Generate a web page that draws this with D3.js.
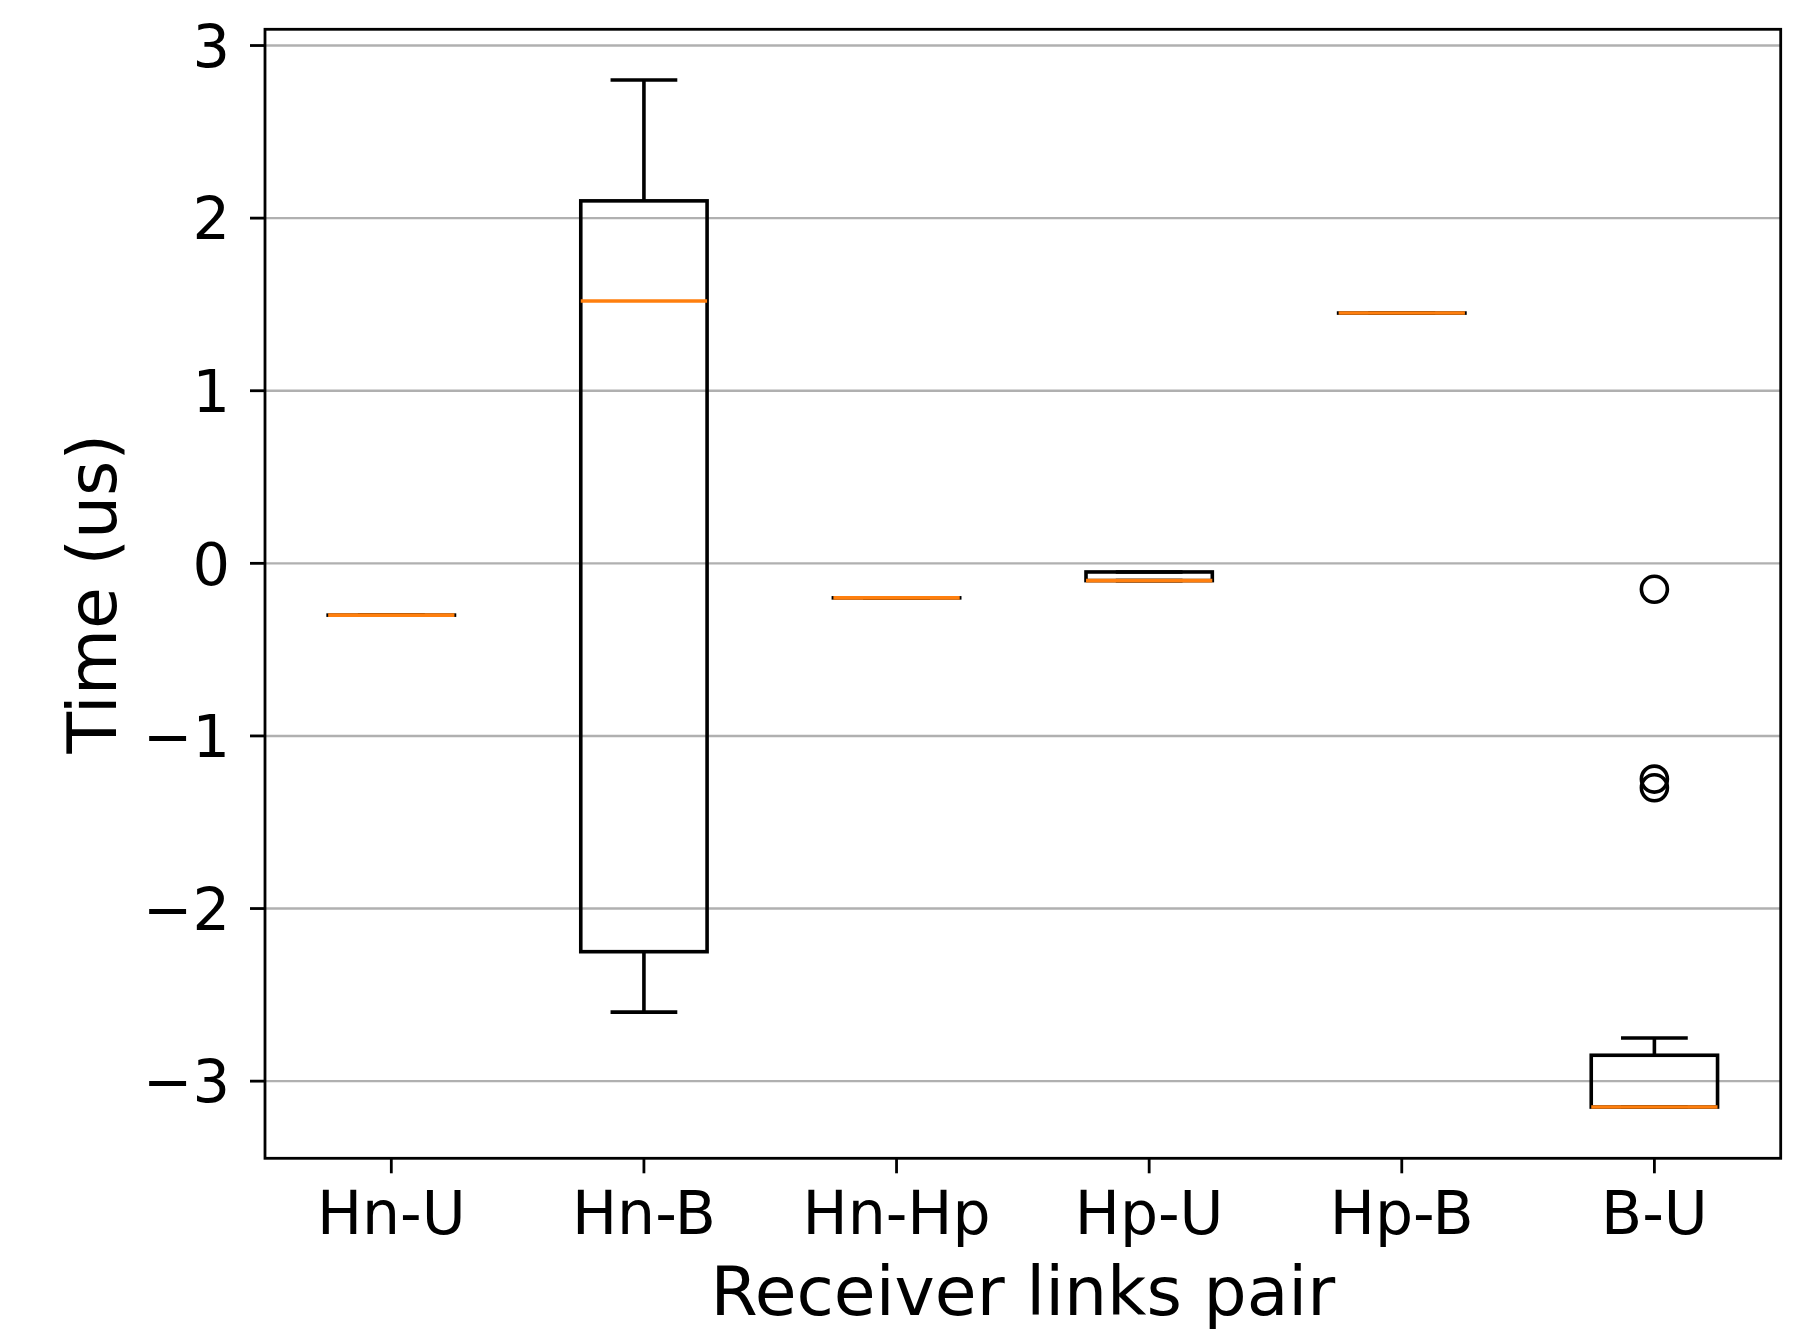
<!DOCTYPE html>
<html>
<head>
<style>
  body { margin: 0; background: #fff; }
  svg { display: block; font-family: 'DejaVu Sans', sans-serif; }
</style>
</head>
<body>
<svg id="chart" width="1817" height="1330"></svg>
<script src="https://cdnjs.cloudflare.com/ajax/libs/d3/7.8.5/d3.min.js"></script>
<script>
  // box statistics
  const categories = ["Hn-U", "Hn-B", "Hn-Hp", "Hp-U", "Hp-B", "B-U"];
  const whiskerLow = [-0.30, -2.60, -0.20, -0.10, 1.45, -3.15];
  const q1 = [-0.30, -2.25, -0.20, -0.10, 1.45, -3.15];
  const median = [-0.30, 1.52, -0.20, -0.10, 1.45, -3.15];
  const q3 = [-0.30, 2.10, -0.20, -0.05, 1.45, -2.85];
  const whiskerHigh = [-0.30, 2.80, -0.20, -0.05, 1.45, -2.75];
  const outliers = [[], [], [], [], [], [-0.15, -1.25, -1.30]];
  const yTicks = [-3, -2, -1, 0, 1, 2, 3];

  const plotLeft = 265, plotRight = 1780.7, plotTop = 29.3, plotBottom = 1158.3;

  const svg = d3.select("#chart");

  const x = d3.scaleLinear().domain([0.5, 6.5]).range([plotLeft, plotRight]);
  const y = d3.scaleLinear().domain([-3.447, 3.094]).range([plotBottom, plotTop]);

  const boxes = categories.map((c, i) => ({
    name: c, pos: i + 1,
    lo: whiskerLow[i], q1: q1[i], med: median[i], q3: q3[i], hi: whiskerHigh[i],
    fliers: outliers[i]
  }));

  // gridlines
  svg.append("g").selectAll("line")
    .data(yTicks).enter().append("line")
    .attr("x1", plotLeft).attr("x2", plotRight)
    .attr("y1", d => y(d)).attr("y2", d => y(d))
    .attr("stroke", "#b0b0b0").attr("stroke-width", 2.4);

  const g = svg.append("g");
  const boxW = 0.25, capW = 0.125, lw = 3.6;

  boxes.forEach(b => {
    // whiskers
    [[b.q1, b.lo], [b.q3, b.hi]].forEach(([a, e]) => {
      g.append("line")
        .attr("x1", x(b.pos)).attr("x2", x(b.pos))
        .attr("y1", y(a)).attr("y2", y(e))
        .attr("stroke", "#000").attr("stroke-width", lw);
    });
    // caps
    [b.lo, b.hi].forEach(v => {
      g.append("line")
        .attr("x1", x(b.pos - capW)).attr("x2", x(b.pos + capW))
        .attr("y1", y(v)).attr("y2", y(v))
        .attr("stroke", "#000").attr("stroke-width", lw)
        .attr("stroke-linecap", "square");
    });
    // box
    g.append("rect")
      .attr("x", x(b.pos - boxW))
      .attr("width", x(b.pos + boxW) - x(b.pos - boxW))
      .attr("y", y(b.q3))
      .attr("height", Math.max(y(b.q1) - y(b.q3), 0.01))
      .attr("fill", "none").attr("stroke", "#000").attr("stroke-width", lw);
    // median
    g.append("line")
      .attr("x1", x(b.pos - boxW)).attr("x2", x(b.pos + boxW))
      .attr("y1", y(b.med)).attr("y2", y(b.med))
      .attr("stroke", "#ff7f0e").attr("stroke-width", lw);
    // fliers
    g.selectAll(null).data(b.fliers).enter().append("circle")
      .attr("cx", x(b.pos)).attr("cy", d => y(d)).attr("r", 13)
      .attr("fill", "none").attr("stroke", "#000").attr("stroke-width", lw);
  });

  // spines
  svg.append("rect")
    .attr("x", plotLeft).attr("y", plotTop)
    .attr("width", plotRight - plotLeft).attr("height", plotBottom - plotTop)
    .attr("fill", "none").attr("stroke", "#000").attr("stroke-width", 2.8);

  // y ticks
  const yt = svg.append("g");
  yTicks.forEach(t => {
    yt.append("line")
      .attr("x1", plotLeft - 15).attr("x2", plotLeft)
      .attr("y1", y(t)).attr("y2", y(t))
      .attr("stroke", "#000").attr("stroke-width", 2.8);
    yt.append("text")
      .attr("x", 230).attr("y", y(t)).attr("dy", "0.36em")
      .attr("text-anchor", "end").attr("font-size", 59)
      .text(t < 0 ? "\u2212" + Math.abs(t) : String(t));
  });

  // x ticks
  const xt = svg.append("g");
  boxes.forEach(b => {
    xt.append("line")
      .attr("x1", x(b.pos)).attr("x2", x(b.pos))
      .attr("y1", plotBottom).attr("y2", plotBottom + 15)
      .attr("stroke", "#000").attr("stroke-width", 2.8);
    xt.append("text")
      .attr("x", x(b.pos)).attr("y", 1234)
      .attr("text-anchor", "middle").attr("font-size", 60)
      .text(b.name);
  });

  // axis labels
  svg.append("text")
    .attr("x", (plotLeft + plotRight) / 2).attr("y", 1315)
    .attr("text-anchor", "middle").attr("font-size", 68)
    .text("Receiver links pair");

  svg.append("text")
    .attr("transform", `translate(116,${(plotTop + plotBottom) / 2}) rotate(-90)`)
    .attr("text-anchor", "middle").attr("font-size", 68)
    .text("Time (us)");
</script>
</body>
</html>
